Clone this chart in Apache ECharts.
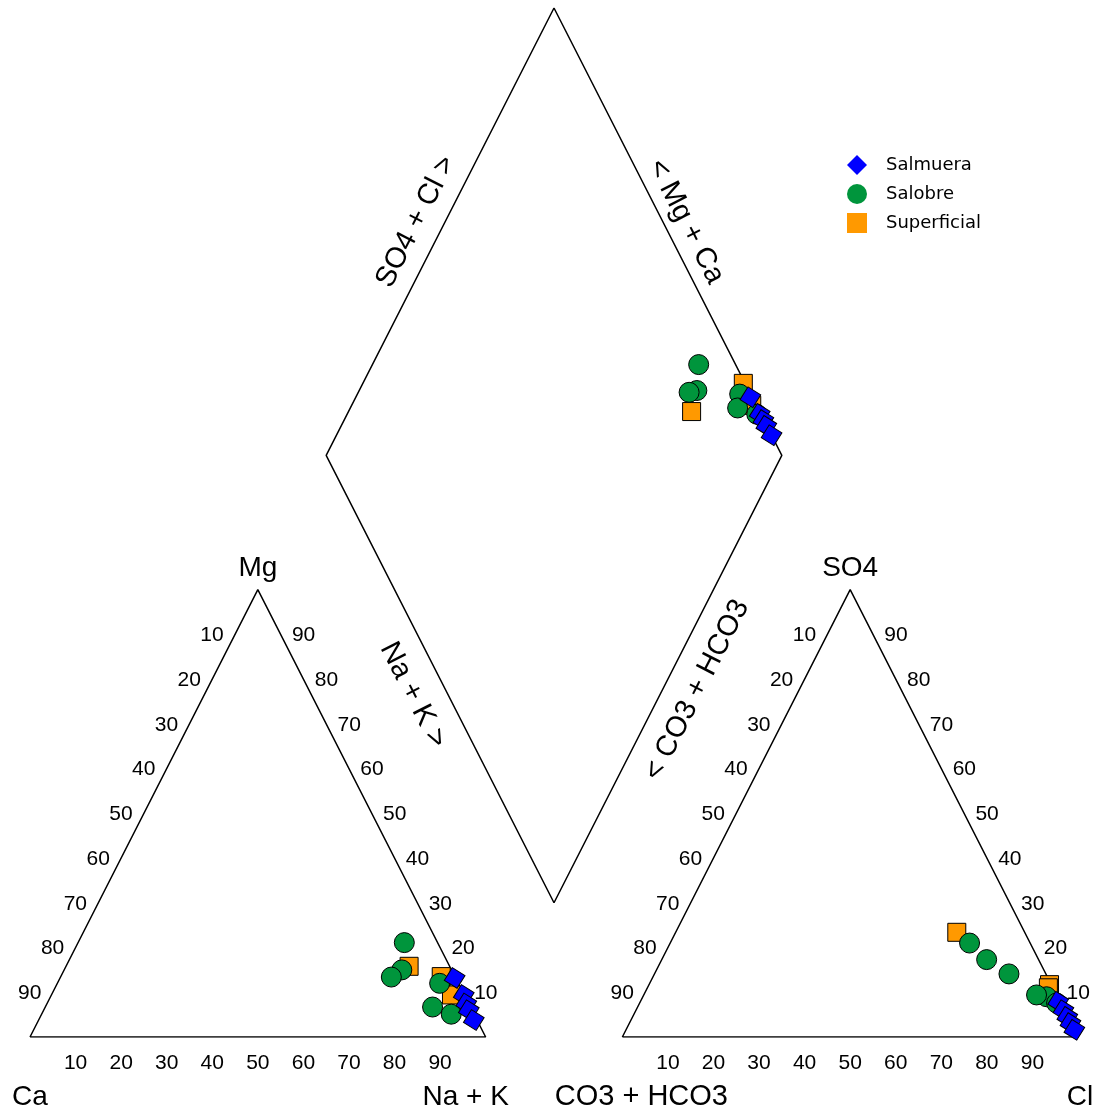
<!DOCTYPE html>
<html><head><meta charset="utf-8">
<script src="https://cdn.jsdelivr.net/npm/echarts@6.0.0/dist/echarts.min.js"></script>
<style>html,body{margin:0;padding:0;background:#fff}#c{width:1102px;height:1113px}</style>
</head><body><div id="c"></div>
<script>
// ---- data (percent of meq) ----
const groupNames = ['Salmuera', 'Salobre', 'Superficial'];

const salmueraCa   = [0.2, 0.1, 0.5, 0.7, 0.7];
const salmueraMg   = [13.2, 9.4, 7.5, 6.0, 3.8];
const salmueraNaK  = [86.6, 90.5, 92.0, 93.3, 95.5];
const salmueraHCO3 = [0.4, 0.2, 0.1, 0.1, 0.0];
const salmueraSO4  = [7.9, 6.0, 4.5, 3.1, 1.6];
const salmueraCl   = [91.7, 93.8, 95.4, 96.8, 98.4];

const salobreCa   = [7.3, 10.9, 14.0, 4.1, 8.3, 5.0];
const salobreMg   = [21.1, 15.0, 13.4, 12.0, 6.7, 5.1];
const salobreNaK  = [71.6, 74.1, 72.6, 83.9, 85.0, 89.9];
const salobreHCO3 = [8.1, 11.4, 13.3, 2.4, 4.4, 0.9];
const salobreSO4  = [14.1, 17.3, 21.0, 9.0, 9.4, 7.6];
const salobreCl   = [77.8, 71.3, 65.7, 88.6, 86.2, 91.5];

const superfCa   = [8.9, 3.0, 2.8];
const superfMg   = [15.8, 13.5, 9.4];
const superfNaK  = [75.3, 83.5, 87.8];
const superfHCO3 = [14.9, 0.4, 1.0];
const superfSO4  = [23.4, 11.7, 11.0];
const superfCl   = [61.7, 87.9, 88.0];

const tickValues = [10, 20, 30, 40, 50, 60, 70, 80, 90];

// ---- geometry helpers (triangle side = 100 units, gap = 30) ----
const GAP = 30;
const AX0 = 100 + GAP;               // anion triangle left corner
function norm3(a, b, c) { const s = a + b + c; return [a * 100 / s, b * 100 / s, c * 100 / s]; }
function cationXY(ca, mg, nak) { const [c, m, n] = norm3(ca, mg, nak); return [n + m / 2, m]; }
function anionXY(hco3, so4, cl) { const [h, s, l] = norm3(hco3, so4, cl); return [AX0 + l + s / 2, s]; }
function diamondXY(ca, mg, nak, hco3, so4, cl) {
  const [c, m] = norm3(ca, mg, nak); const [h, s, l] = norm3(hco3, so4, cl);
  const cm = c + m, sc = s + l;
  return [100 + GAP / 2 + 0.5 * (sc - cm), GAP + sc + cm];
}
function buildPoints(ca, mg, nak, hco3, so4, cl) {
  const pts = [];
  for (let i = 0; i < ca.length; i++) {
    pts.push(cationXY(ca[i], mg[i], nak[i]));
    pts.push(anionXY(hco3[i], so4[i], cl[i]));
    pts.push(diamondXY(ca[i], mg[i], nak[i], hco3[i], so4[i], cl[i]));
  }
  return pts;
}

const cationOutline = [[0, 0], [100, 0], [50, 100], [0, 0]];
const anionOutline = [[AX0, 0], [AX0 + 100, 0], [AX0 + 50, 100], [AX0, 0]];
const DB = [100 + GAP / 2, GAP];
const diamondOutline = [DB, [DB[0] + 50, DB[1] + 100], [DB[0], DB[1] + 200], [DB[0] - 50, DB[1] + 100], DB];

function outline(data) {
  return { type: 'line', data, symbol: 'none', silent: true, z: 1,
    lineStyle: { color: '#000', width: 1.5 }, animation: false, legendHoverLink: false };
}

const option = {
  animation: false,
  backgroundColor: '#fff',
  grid: { left: 30, right: 24, top: 8, bottom: 76, containLabel: false },
  xAxis: { type: 'value', min: 0, max: 230, show: false },
  yAxis: { type: 'value', min: 0, max: 230, show: false },
  legend: {
    orient: 'vertical', left: 842, top: 150, itemWidth: 20, itemHeight: 20, itemGap: 9,
    symbolRotate: 0,
    data: [
      { name: 'Salmuera', icon: 'diamond' },
      { name: 'Salobre', icon: 'circle' },
      { name: 'Superficial', icon: 'rect' }
    ],
    itemStyle: { borderWidth: 0 },
    textStyle: { fontFamily: 'DejaVu Sans', fontSize: 18, color: '#000', padding: [0, 0, 0, 14] }
  },
  series: [
    outline(cationOutline), outline(anionOutline), outline(diamondOutline),
    { name: 'Salmuera', type: 'scatter', symbol: 'rect', symbolSize: 15, symbolRotate: -32, z: 5,
      itemStyle: { color: '#0000ff', borderColor: '#000', borderWidth: 1, opacity: 1 },
      data: buildPoints(salmueraCa, salmueraMg, salmueraNaK, salmueraHCO3, salmueraSO4, salmueraCl) },
    { name: 'Salobre', type: 'scatter', symbol: 'circle', symbolSize: 20, z: 4,
      itemStyle: { color: '#00953c', borderColor: '#000', borderWidth: 1, opacity: 1 },
      data: buildPoints(salobreCa, salobreMg, salobreNaK, salobreHCO3, salobreSO4, salobreCl) },
    { name: 'Superficial', type: 'scatter', symbol: 'rect', symbolSize: 18, z: 3,
      itemStyle: { color: '#ff9900', borderColor: '#000', borderWidth: 1, opacity: 1 },
      data: buildPoints(superfCa, superfMg, superfNaK, superfHCO3, superfSO4, superfCl) }
  ]
};

const chart = echarts.init(document.getElementById('c'));
chart.setOption(option);

// ---- text placed through the chart's own scales ----
const FONT = 'Liberation Sans';
const g = [];
function px(p) { return chart.convertToPixel({ gridIndex: 0 }, p); }
function addText(text, p, dx, dy, size, rotDeg) {
  const q = px(p);
  g.push({ type: 'text', x: q[0] + dx, y: q[1] + dy, rotation: (rotDeg || 0) * Math.PI / 180, silent: true, z: 10,
    style: { text: String(text), fill: '#000', fontSize: size, fontFamily: FONT, align: 'center', verticalAlign: 'middle' } });
}
// tick labels
tickValues.forEach(v => {
  // cation triangle
  addText(v, cationXY(100 - v, 0, v), 0, 26, 21);          // bottom: Na+K
  addText(v, cationXY(v, 100 - v, 0), -23, 1, 21);         // left: Ca
  addText(v, cationXY(0, v, 100 - v), 23, 1, 21);          // right: Mg
  // anion triangle
  addText(v, anionXY(100 - v, 0, v), 0, 26, 21);           // bottom: Cl
  addText(v, anionXY(v, 100 - v, 0), -23, 1, 21);          // left: CO3+HCO3
  addText(v, anionXY(0, v, 100 - v), 23, 1, 21);           // right: SO4
});
// corner names
addText('Mg', [50, 100], 0, -21, 28);
addText('Ca', [0, 0], 0, 60, 28);
addText('Na + K', [100, 0], -20, 60, 28);
addText('SO4', [AX0 + 50, 100], 0, -21, 28);
addText('CO3 + HCO3', [AX0, 0], 19, 60, 29);
addText('Cl', [AX0 + 100, 0], 2, 60, 28);
// diamond edge names
addText('SO4 + Cl >', [DB[0] - 25, DB[1] + 150], -24, -10, 29, 63);
addText('< Mg + Ca', [DB[0] + 25, DB[1] + 150], 18, -10, 29, -63);
addText('Na + K >', [DB[0] - 25, DB[1] + 50], -27, 16, 29, -63);
addText('< CO3 + HCO3', [DB[0] + 25, DB[1] + 50], 29, 11, 29, 63);

chart.setOption({ graphic: g });
</script>
</body></html>
